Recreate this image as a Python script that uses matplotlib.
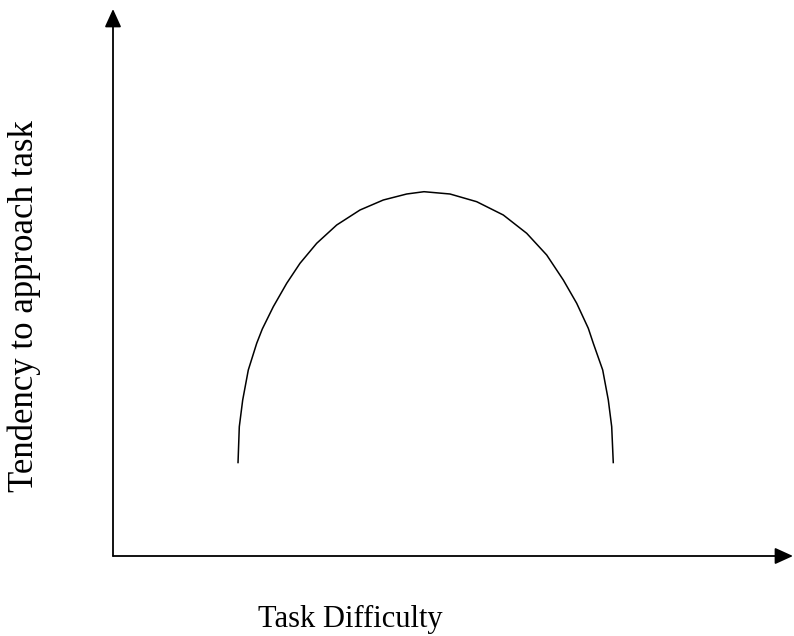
import matplotlib.pyplot as plt

# task difficulty (x) vs tendency to approach task (y)
difficulty = [125, 126.3, 129.7, 135.3, 143.7, 149.3, 160.3, 173.7, 187, 203.7,
              223.7, 247, 270.3, 293.7, 311, 337, 363.7, 390.3, 413.7, 433.7,
              450.3, 463.7, 475.3, 480.3, 489.7, 495.3, 498.7, 500.3]
tendency = [92.7, 129.3, 156, 186, 212.7, 227, 249.3, 272.7, 292.7, 312.7,
            331, 346, 356, 362, 364.3, 362, 354.3, 341, 322.7, 301,
            276, 252.7, 227.7, 212.7, 186, 156, 129.3, 92.7]

x_label = "Task Difficulty"
y_label = "Tendency to approach task"

fig = plt.figure(figsize=(7.94, 6.36), dpi=100)
ax = fig.add_axes([0, 0, 1, 1])
ax.set_xlim(-113, 681)
ax.set_ylim(-80, 556)
ax.axis('off')

# curve
ax.plot(difficulty, tendency, color='black', linewidth=1.1,
        solid_joinstyle='round', solid_capstyle='butt')

# axes with arrow heads
arrow_style = dict(arrowstyle='-|>,head_length=1.1,head_width=0.5', mutation_scale=10,
                   color='black', linewidth=1.3, shrinkA=0, shrinkB=0)
ax.annotate('', xy=(680, 0), xytext=(0, 0), arrowprops=arrow_style)
ax.annotate('', xy=(0, 547), xytext=(0, 0), arrowprops=arrow_style)

# labels
ax.text(237, -71, x_label, ha='center', va='baseline', fontsize=22, family='Liberation Serif')
ax.text(-89, 250, y_label, ha='center', va='center', rotation=90, fontsize=25,
        family='Liberation Serif')

plt.savefig('out.png', dpi=100)
